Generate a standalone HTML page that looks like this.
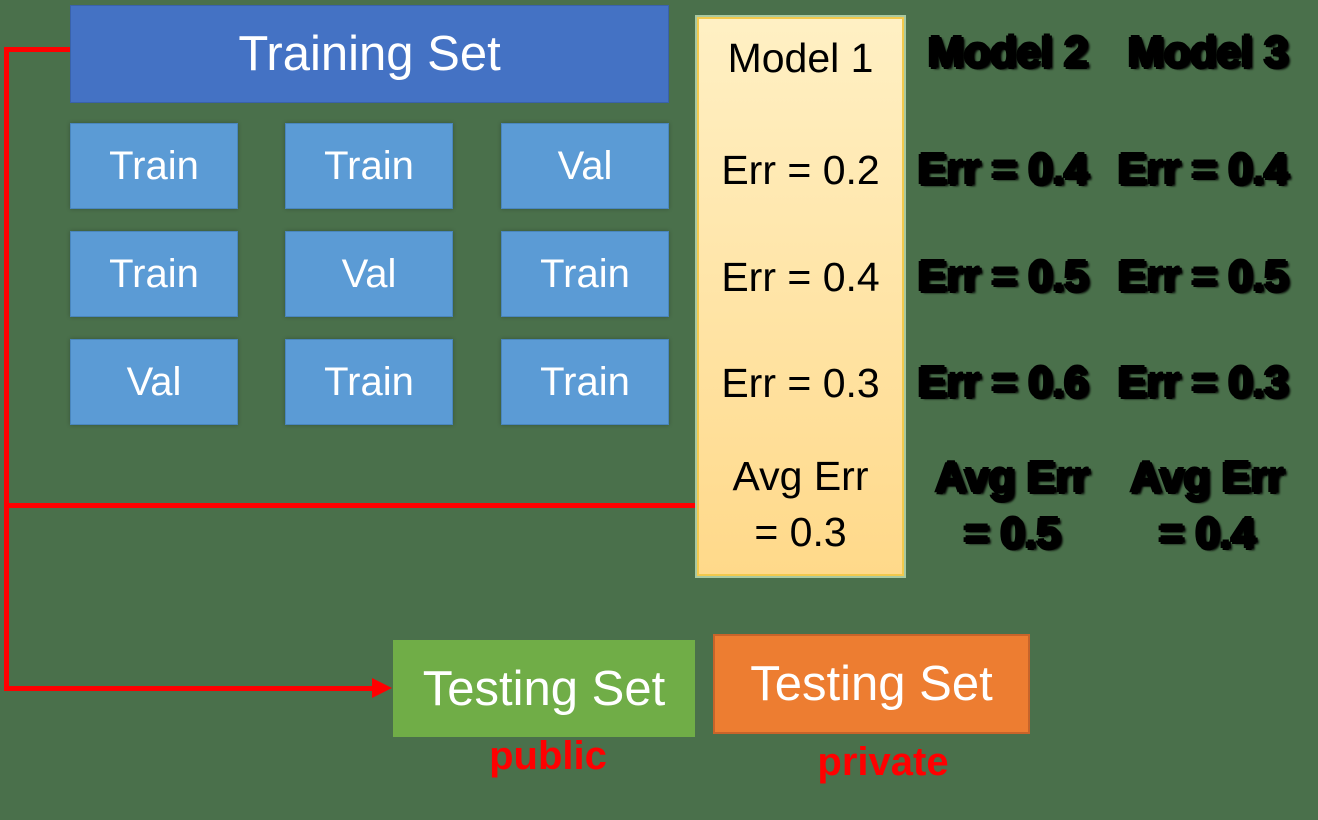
<!DOCTYPE html>
<html><head><meta charset="utf-8"><style>
body{margin:0;width:1318px;height:820px;background:#4a704b;position:relative;overflow:hidden;font-family:"Liberation Sans",sans-serif}
.b{position:absolute;display:flex;align-items:center;justify-content:center;color:#fff;box-sizing:border-box}
.s{background:#5b9bd5;border:1px solid #4a86bd;font-size:40px;width:168px;height:86px;box-shadow:0 0 4px rgba(0,0,0,.25)}
.t{position:absolute;text-align:center;font-size:41px;color:#000;line-height:56px}
.k{position:absolute;text-align:center;font-size:44px;font-weight:bold;color:#000;text-shadow:2px 0 0 #000,-2px 0 0 #000,0 2px 0 #000,0 -2px 0 #000,3px 2px 2px #000;letter-spacing:-0.5px;line-height:56px;width:200px}
.r{position:absolute;background:#f00}
</style></head><body>
<div class="r" style="left:4px;top:47px;width:5px;height:643px"></div>
<div class="r" style="left:4px;top:47px;width:66px;height:5px"></div>
<div class="r" style="left:4px;top:503px;width:694px;height:5px"></div>
<div class="r" style="left:4px;top:686px;width:372px;height:5px"></div>
<svg style="position:absolute;left:372px;top:678px" width="22" height="22"><polygon points="0,0 20,10 0,20" fill="#f00"/></svg>

<div class="b" style="left:70px;top:5px;width:599px;height:98px;background:#4472c4;border:1px solid #3a62aa;font-size:49px">Training Set</div>

<div class="b s" style="left:70px;top:123px">Train</div>
<div class="b s" style="left:285px;top:123px">Train</div>
<div class="b s" style="left:501px;top:123px">Val</div>
<div class="b s" style="left:70px;top:231px">Train</div>
<div class="b s" style="left:285px;top:231px">Val</div>
<div class="b s" style="left:501px;top:231px">Train</div>
<div class="b s" style="left:70px;top:339px">Val</div>
<div class="b s" style="left:285px;top:339px">Train</div>
<div class="b s" style="left:501px;top:339px">Train</div>

<div style="position:absolute;left:697px;top:17px;width:207px;height:559px;box-sizing:border-box;border:2px solid #f2c94c;outline:2px solid #a9c9a0;background:linear-gradient(#fff0c4,#ffd98a)"></div>
<div class="t" style="left:697px;width:207px;top:30px">Model 1</div>
<div class="t" style="left:697px;width:207px;top:142px">Err = 0.2</div>
<div class="t" style="left:697px;width:207px;top:249px">Err = 0.4</div>
<div class="t" style="left:697px;width:207px;top:355px">Err = 0.3</div>
<div class="t" style="left:697px;width:207px;top:448px">Avg Err<br>= 0.3</div>

<div class="k" style="left:908px;top:25px">Model 2</div>
<div class="k" style="left:1108px;top:25px">Model 3</div>
<div class="k" style="left:903px;top:142px">Err = 0.4</div>
<div class="k" style="left:1103px;top:142px">Err = 0.4</div>
<div class="k" style="left:903px;top:249px">Err = 0.5</div>
<div class="k" style="left:1103px;top:249px">Err = 0.5</div>
<div class="k" style="left:903px;top:355px">Err = 0.6</div>
<div class="k" style="left:1103px;top:355px">Err = 0.3</div>
<div class="k" style="left:912px;top:450px">Avg Err<br>= 0.5</div>
<div class="k" style="left:1107px;top:450px">Avg Err<br>= 0.4</div>

<div class="b" style="left:393px;top:640px;width:302px;height:97px;background:#70ad47;font-size:49px">Testing Set</div>
<div class="b" style="left:713px;top:634px;width:317px;height:100px;background:#ed7d31;border:2px solid #c8642a;font-size:49px">Testing Set</div>
<div style="position:absolute;left:448px;width:200px;top:734px;text-align:center;color:#f00;font-weight:bold;font-size:40px">public</div>
<div style="position:absolute;left:783px;width:200px;top:740px;text-align:center;color:#f00;font-weight:bold;font-size:40px">private</div>
</body></html>
